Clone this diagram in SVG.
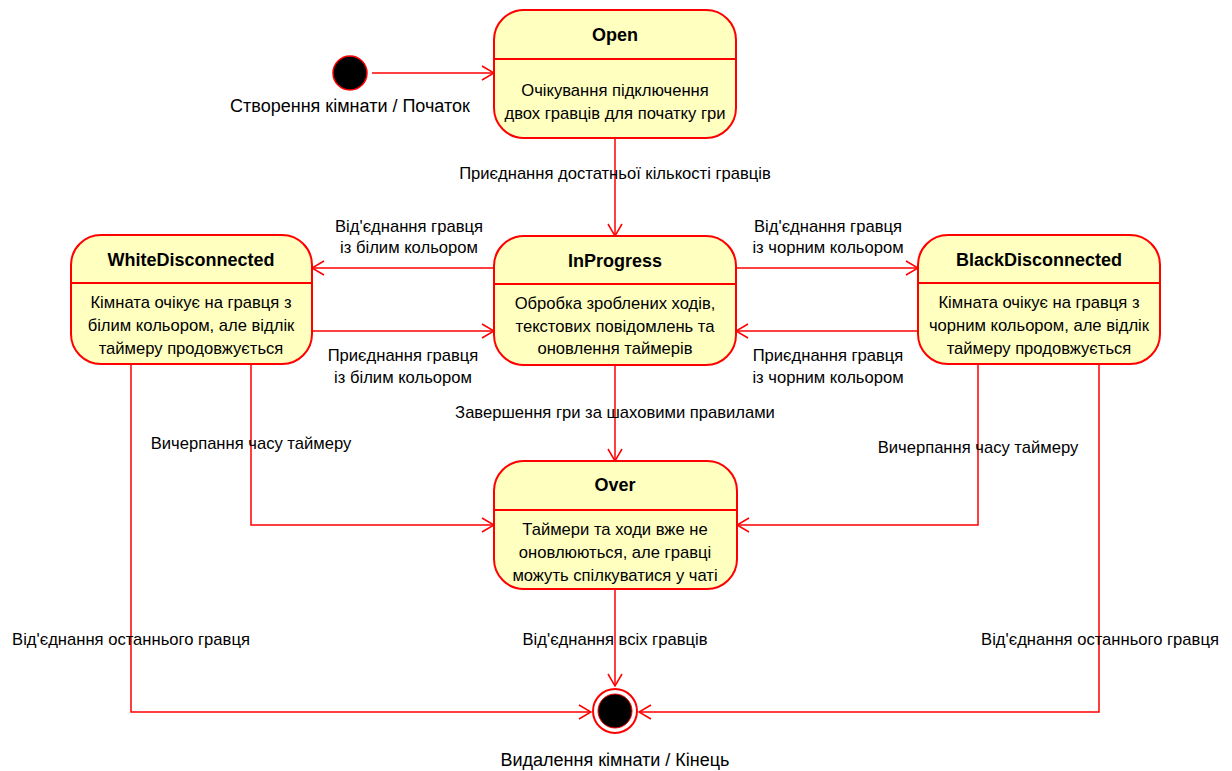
<svg xmlns="http://www.w3.org/2000/svg" width="1232" height="771" viewBox="0 0 1232 771">
<defs>
<marker id="arr" viewBox="0 0 14 16" refX="13" refY="8" markerWidth="14" markerHeight="16" markerUnits="userSpaceOnUse" orient="auto">
<path d="M1,1 L13,8 L1,15" fill="none" stroke="#ff0000" stroke-width="1.5"/>
</marker>
<style>
.st{fill:#ffffc0;stroke:#ff0000;stroke-width:2}
.dv{stroke:#ff0000;stroke-width:2}
.t{font-family:"Liberation Sans",Arial,sans-serif;font-size:16.6px;fill:#000;text-anchor:middle}
.b{font-family:"Liberation Sans",Arial,sans-serif;font-size:18px;font-weight:bold;fill:#000;text-anchor:middle}
.big{font-size:18px}
.c{fill:none;stroke:#ff0000;stroke-width:1.5;marker-end:url(#arr)}
</style>
</defs>
<rect width="1232" height="771" fill="#fff"/>
<g id="connectors">
<path class="c" d="M372,73 L494,73"/>
<path class="c" d="M615,138 L615,236"/>
<path class="c" d="M494,268 L312,268"/>
<path class="c" d="M312,331 L494,331"/>
<path class="c" d="M736,268 L918,268"/>
<path class="c" d="M918,331 L736,331"/>
<path class="c" d="M615,365 L615,461"/>
<path class="c" d="M251,364 L251,525 L494,525"/>
<path class="c" d="M978,364 L978,525 L737,525"/>
<path class="c" d="M131,364 L131,712 L591,712"/>
<path class="c" d="M1099,364 L1099,712 L639,712"/>
<path class="c" d="M615,589 L615,686"/>
<text class="t" x="615" y="179">Приєднання достатньої кількості гравців</text>
<text class="t" x="409" y="232">Від'єднання гравця</text>
<text class="t" x="409" y="253">із білим кольором</text>
<text class="t" x="403" y="361">Приєднання гравця</text>
<text class="t" x="403" y="383">із білим кольором</text>
<text class="t" x="828" y="232">Від'єднання гравця</text>
<text class="t" x="828" y="253">із чорним кольором</text>
<text class="t" x="828" y="361">Приєднання гравця</text>
<text class="t" x="828" y="383">із чорним кольором</text>
<text class="t" x="615" y="418">Завершення гри за шаховими правилами</text>
<text class="t" x="251" y="449">Вичерпання часу таймеру</text>
<text class="t" x="978" y="453">Вичерпання часу таймеру</text>
<text class="t" x="131" y="645">Від'єднання останнього гравця</text>
<text class="t" x="1100" y="645">Від'єднання останнього гравця</text>
<text class="t" x="615" y="645">Від'єднання всіх гравців</text>
</g>
<g id="initial">
<circle cx="350" cy="73" r="17" fill="#000" stroke="#ff0000" stroke-width="1.5"/>
<text class="t big" x="350" y="112">Створення кімнати / Початок</text>
</g>
<g id="open">
<rect class="st" x="494" y="10" width="242" height="128" rx="30"/>
<line class="dv" x1="494" y1="59" x2="736" y2="59"/>
<text class="b" x="615" y="41">Open</text>
<text class="t" x="615" y="96">Очікування підключення</text>
<text class="t" x="615" y="119">двох гравців для початку гри</text>
</g>
<g id="inprogress">
<rect class="st" x="494" y="236" width="242" height="129" rx="30"/>
<line class="dv" x1="494" y1="284" x2="736" y2="284"/>
<text class="b" x="615" y="267">InProgress</text>
<text class="t" x="615" y="309">Обробка зроблених ходів,</text>
<text class="t" x="615" y="332">текстових повідомлень та</text>
<text class="t" x="615" y="354">оновлення таймерів</text>
</g>
<g id="whitedisconnected">
<rect class="st" x="71" y="235" width="241" height="129" rx="30"/>
<line class="dv" x1="71" y1="283" x2="312" y2="283"/>
<text class="b" x="191" y="266">WhiteDisconnected</text>
<text class="t" x="191" y="308">Кімната очікує на гравця з</text>
<text class="t" x="191" y="331">білим кольором, але відлік</text>
<text class="t" x="191" y="354">таймеру продовжується</text>
</g>
<g id="blackdisconnected">
<rect class="st" x="918" y="235" width="242" height="129" rx="30"/>
<line class="dv" x1="918" y1="283" x2="1160" y2="283"/>
<text class="b" x="1039" y="266">BlackDisconnected</text>
<text class="t" x="1039" y="308">Кімната очікує на гравця з</text>
<text class="t" x="1039" y="331">чорним кольором, але відлік</text>
<text class="t" x="1039" y="354">таймеру продовжується</text>
</g>
<g id="over">
<rect class="st" x="494" y="461" width="243" height="128" rx="30"/>
<line class="dv" x1="494" y1="510" x2="737" y2="510"/>
<text class="b" x="615" y="491">Over</text>
<text class="t" x="615" y="535">Таймери та ходи вже не</text>
<text class="t" x="615" y="558">оновлюються, але гравці</text>
<text class="t" x="615" y="581">можуть спілкуватися у чаті</text>
</g>
<g id="final">
<circle cx="615" cy="711" r="22" fill="#fff" stroke="#ff0000" stroke-width="2"/>
<circle cx="615" cy="711" r="17" fill="#000" stroke="#ff0000" stroke-width="1"/>
<text class="t big" x="615" y="766">Видалення кімнати / Кінець</text>
</g>
</svg>
